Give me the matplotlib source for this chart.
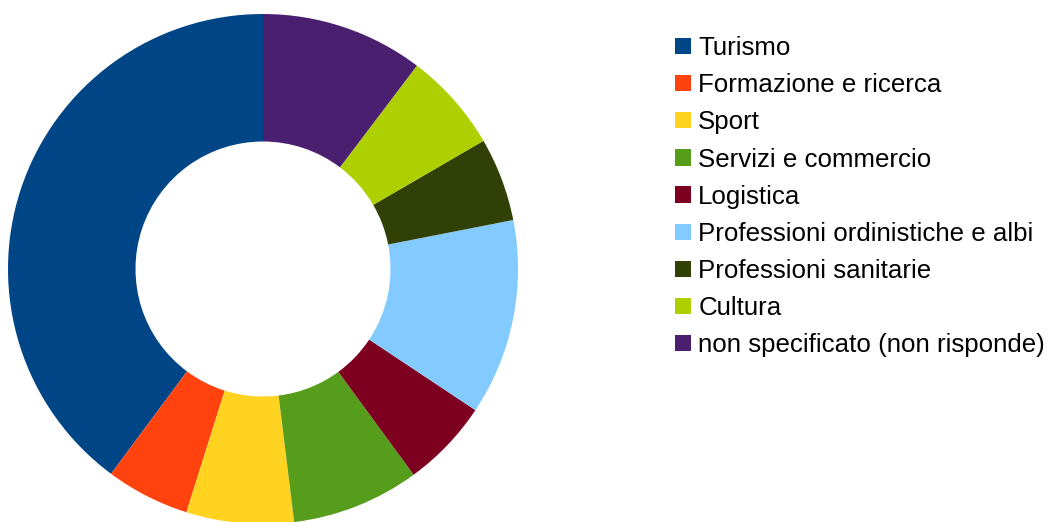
import matplotlib
matplotlib.use('Agg')
import matplotlib.pyplot as plt

plt.rcParams['font.family'] = ['Liberation Sans', 'DejaVu Sans']

# categories and shares (percent)
categories = [
    'Turismo',
    'Formazione e ricerca',
    'Sport',
    'Servizi e commercio',
    'Logistica',
    'Professioni ordinistiche e albi',
    'Professioni sanitarie',
    'Cultura',
    'non specificato (non risponde)',
]
shares = [39.8, 5.3, 6.8, 8.1, 5.6, 12.4, 5.3, 6.3, 10.3]
colors = ['#004586', '#ff420e', '#ffd320', '#579d1c', '#7e0021',
          '#83caff', '#314004', '#aecf00', '#4b1f6f']

W, H = 1048, 522
fig = plt.figure(figsize=(W / 100, H / 100), dpi=100)

# donut: centre (263, 269) px, outer radius ~255 px
cx, cy, r = 263, 269, 255
ax = fig.add_axes([(cx - r) / W, (H - cy - r) / H, 2 * r / W, 2 * r / H])
wedges, _ = ax.pie(shares, colors=colors, startangle=90, counterclock=True,
                   radius=1, wedgeprops=dict(width=0.5, linewidth=0))
ax.set_xlim(-1, 1)
ax.set_ylim(-1, 1)
ax.set_aspect('equal')
ax.axis('off')

leg = fig.legend(wedges, categories, loc='upper left',
                 bbox_to_anchor=(675 / W, 1 - 36 / H),
                 frameon=False, fontsize=18.6,
                 handlelength=0.6, handleheight=0.6, handletextpad=0.3,
                 labelspacing=0.51, borderpad=0, borderaxespad=0)

fig.savefig('out.png', dpi=100)
